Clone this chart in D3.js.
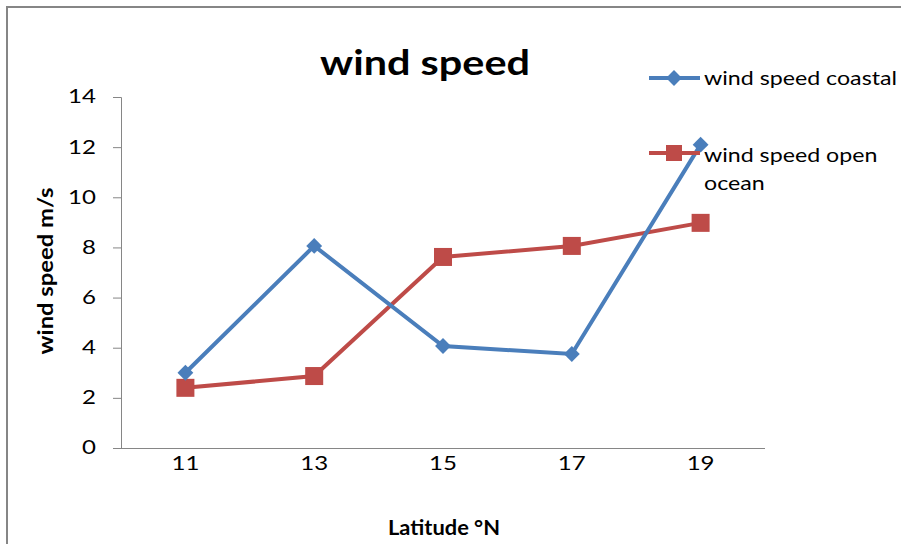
<!DOCTYPE html>
<html><head><meta charset="utf-8">
<script src="https://cdn.jsdelivr.net/npm/d3@7"></script>
<style>body{margin:0;background:#fff}svg{display:block}text{font-family:Lato,"Open Sans",sans-serif}</style>
</head><body><svg id="c" width="901" height="544"></svg>
<script>
const categories = ["11","13","15","17","19"];
const coastal = [3.0, 8.06, 4.07, 3.75, 12.1];
const openOcean = [2.4, 2.87, 7.62, 8.06, 8.98];
const yTicks = [0,2,4,6,8,10,12,14];
const seriesNames = ["wind speed coastal","wind speed open ocean"];

const svg = d3.select("#c");
svg.append("rect").attr("x",7).attr("y",7).attr("width",1000).attr("height",1000)
  .attr("fill","none").attr("stroke","#868686").attr("stroke-width",2);

const x = d3.scaleBand().domain(categories).range([121,765]);
const y = d3.scaleLinear().domain([0,14]).range([448,97]);

function stretch(sel,k){
  sel.each(function(){
    const w=this.getComputedTextLength();
    d3.select(this).attr("textLength",w*k).attr("lengthAdjust","spacingAndGlyphs");
  });
}
function fitTo(sel,len){ sel.attr("textLength",len).attr("lengthAdjust","spacingAndGlyphs"); }

const yAxis = svg.append("g").attr("transform","translate(121,0)")
  .call(d3.axisLeft(y).tickValues(yTicks).tickSize(8).tickPadding(17));
const xAxis = svg.append("g").attr("transform","translate(0,448)")
  .call(d3.axisBottom(x).tickSize(0).tickPadding(9));
[yAxis,xAxis].forEach(g=>{
  g.selectAll("path,line").attr("stroke","#868686");
  g.selectAll("text").attr("font-size",18.5).attr("fill","#000").attr("font-family","Lato,sans-serif");
  stretch(g.selectAll("text"),1.3);
});
xAxis.select(".domain").attr("d","M113,0.5H765");

const title = svg.append("text").attr("x",425).attr("y",75).attr("text-anchor","middle")
  .attr("font-size",34).attr("font-weight","bold").text("wind speed");
fitTo(title,210);
const yl = svg.append("text").attr("transform","translate(53,271) rotate(-90)").attr("text-anchor","middle")
  .attr("font-size",21).attr("font-weight","bold").text("wind speed m/s");
fitTo(yl,167);
const xl = svg.append("text").attr("x",444).attr("y",535).attr("text-anchor","middle")
  .attr("font-size",20).attr("font-weight","bold").text("Latitude °N");
fitTo(xl,112);

const cx = d => x(d)+x.bandwidth()/2;
const line = d3.line().x((d,i)=>cx(categories[i])).y(d=>y(d));
const blue="#4A7EBB", red="#BE4B48";

svg.append("path").datum(openOcean).attr("d",line).attr("fill","none").attr("stroke",red).attr("stroke-width",4);
svg.selectAll(".sq").data(openOcean).enter().append("rect")
  .attr("x",(d,i)=>cx(categories[i])-9).attr("y",d=>y(d)-9).attr("width",18).attr("height",18).attr("fill",red);

svg.append("path").datum(coastal).attr("d",line).attr("fill","none").attr("stroke",blue).attr("stroke-width",4);
const diamond = d3.symbol().type(d3.symbolDiamond2).size(160);
svg.selectAll(".dm").data(coastal).enter().append("path")
  .attr("d",diamond).attr("transform",(d,i)=>`translate(${cx(categories[i])},${y(d)})`).attr("fill",blue);

// legend
const lg = svg.append("g");
lg.append("line").attr("x1",649).attr("x2",700).attr("y1",78).attr("y2",78).attr("stroke",blue).attr("stroke-width",4);
lg.append("path").attr("d",diamond).attr("transform","translate(674,78)").attr("fill",blue);
const t1 = lg.append("text").attr("x",704).attr("y",85).attr("font-size",19).text(seriesNames[0]);
lg.append("line").attr("x1",649).attr("x2",700).attr("y1",153).attr("y2",153).attr("stroke",red).attr("stroke-width",4);
lg.append("rect").attr("x",666).attr("y",145).attr("width",16).attr("height",16).attr("fill",red);
const t2 = lg.append("text").attr("x",704).attr("y",162).attr("font-size",19);
t2.append("tspan").attr("x",704).text("wind speed open");
t2.append("tspan").attr("x",704).attr("dy",28).text("ocean");
fitTo(t1,193);
stretch(t2.selectAll("tspan"),1.22);
</script></body></html>
